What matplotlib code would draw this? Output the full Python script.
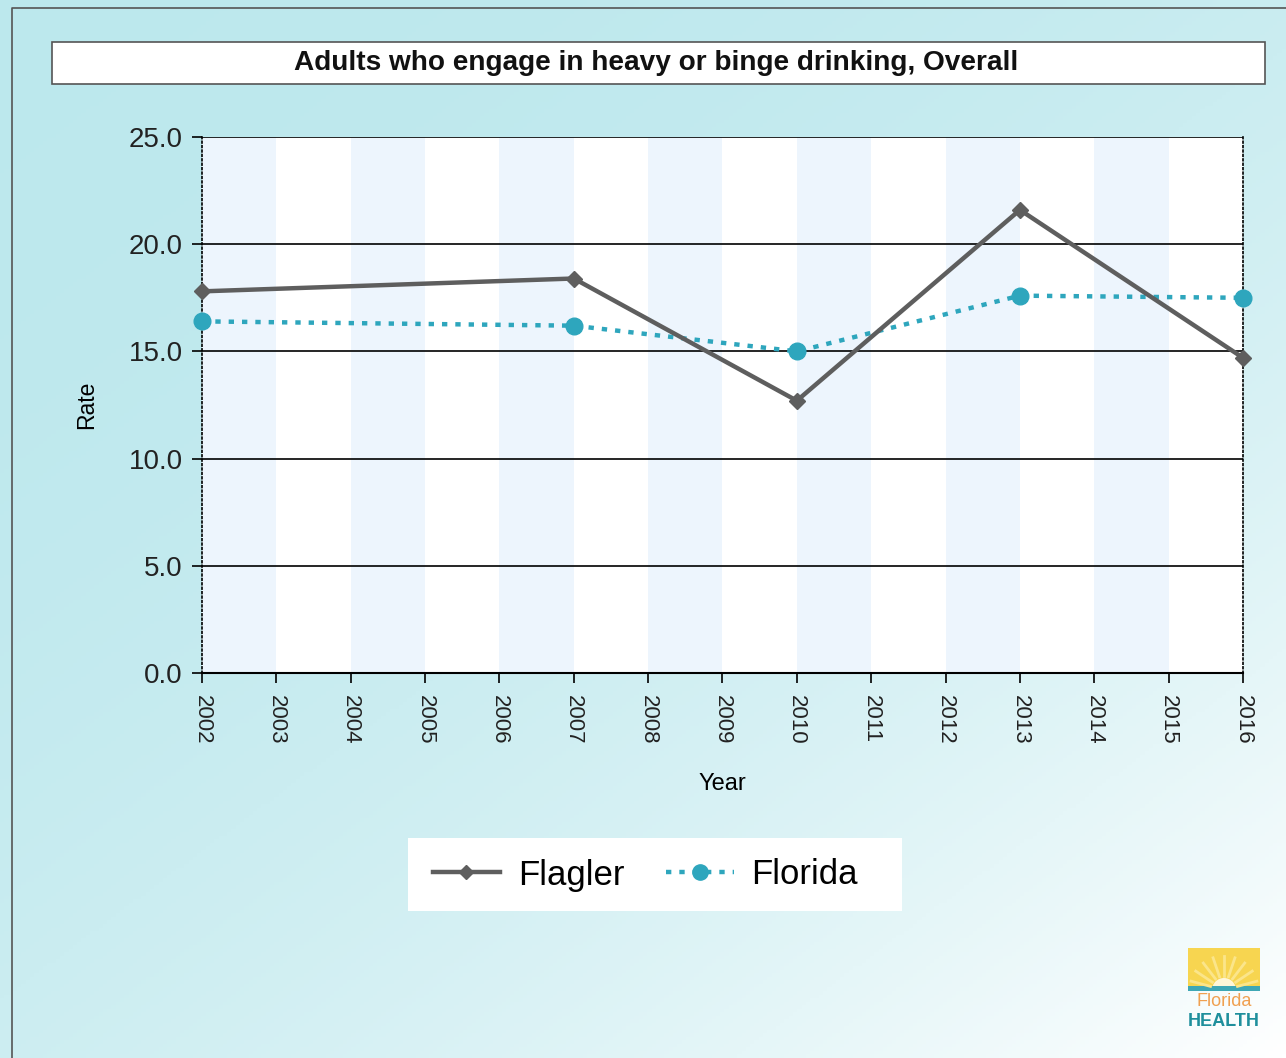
"""
Adults who engage in heavy or binge drinking - Flagler vs Florida.
"""
import numpy as np
import matplotlib.pyplot as plt
from matplotlib.patches import Rectangle, Wedge
from matplotlib.lines import Line2D

plt.rcParams['font.family'] = ['Liberation Sans', 'DejaVu Sans']

years = [2002, 2007, 2010, 2013, 2016]
flagler = [17.8, 18.4, 12.7, 21.6, 14.7]
florida = [16.4, 16.2, 15.0, 17.6, 17.5]
year_ticks = list(range(2002, 2017))
rate_ticks = [0.0, 5.0, 10.0, 15.0, 20.0, 25.0]

title = "Adults who engage in heavy or binge drinking, Overall"
gray = "#5e5e5e"
teal = "#2ea6bd"

W, H = 1286, 1058
fig = plt.figure(figsize=(W / 100, H / 100), dpi=100)

# background gradient, cyan at top-left fading to white at bottom-right
bg = fig.add_axes([0, 0, 1, 1], zorder=-10)
xx, yy = np.meshgrid(np.linspace(0, 1, 300), np.linspace(0, 1, 300))
t = np.clip((xx * 0.9 + yy) / 1.9, 0, 1) ** 2.2
c0 = np.array([0.74, 0.91, 0.93])
img = c0[None, None, :] + (1 - c0)[None, None, :] * t[:, :, None]
bg.imshow(img, extent=[0, W, H, 0], aspect='auto')
bg.set_xlim(0, W)
bg.set_ylim(H, 0)
bg.axis('off')

# outer frame and title box
bg.plot([12, 12, W], [H, 8, 8], color="#555555", lw=1.2)
bg.add_patch(Rectangle((52, 42), 1213, 42, facecolor='white', edgecolor='#555555', lw=1.2))
bg.text(656, 63, title, ha='center', va='center', fontsize=20.2, fontweight='bold', color='#111111')

# white box behind the legend
bg.add_patch(Rectangle((408, 838), 494, 73, facecolor='white', edgecolor='none'))

# simple Florida Health logo
bg.add_patch(Rectangle((1188, 948), 72, 42, facecolor='#f7d550', edgecolor='none'))
for ang in np.linspace(15, 165, 9):
    r = np.radians(ang)
    bg.plot([1224 + 14 * np.cos(r), 1224 + 34 * np.cos(r)],
            [990 - 14 * np.sin(r), 990 - 34 * np.sin(r)], color='#fbe58a', lw=2)
bg.add_patch(Wedge((1224, 990), 12, 180, 360, facecolor='#fff6d8', edgecolor='none'))
bg.add_patch(Rectangle((1188, 986), 72, 5, facecolor='#3fa7b5', edgecolor='none'))
bg.text(1224, 1002, "Florida", ha='center', va='center', fontsize=13, color='#f0a050')
bg.text(1224, 1021, "HEALTH", ha='center', va='center', fontsize=13, fontweight='bold', color='#1f8f9c')

# main plot
ax = fig.add_axes([202 / W, (H - 673) / H, 1041 / W, 536 / H])
ax.set_facecolor('white')
for y0 in range(2002, 2016, 2):
    ax.axvspan(y0, y0 + 1, color='#edf5fd', lw=0, zorder=0)

ax.set_xlim(2002, 2016)
ax.set_ylim(0, 25)
ax.set_yticks(rate_ticks)
ax.set_yticklabels([f"{v:.1f}" for v in rate_ticks], fontsize=20)
ax.set_xticks(year_ticks)
ax.set_xticklabels([str(y) for y in year_ticks], rotation=270, fontsize=16, color='#222222')
ax.tick_params(axis='both', length=7, width=1.2, color='black')
ax.tick_params(axis='y', pad=7, labelcolor='#222222')
ax.tick_params(axis='x', pad=9)

for v in rate_ticks[1:]:
    ax.axhline(v, color='black', lw=1.2, zorder=1)
ax.spines['top'].set_visible(False)
ax.spines['bottom'].set_linewidth(1.5)
for s in ['left', 'right']:
    ax.spines[s].set_linestyle(':')
    ax.spines[s].set_linewidth(1.2)

ax.set_ylabel("Rate", fontsize=16.5, labelpad=22)
ax.set_xlabel("Year", fontsize=17, labelpad=20)

ax.plot(years, flagler, color=gray, lw=3.2, marker='D', markersize=8, zorder=4, clip_on=False)
ax.plot(years, florida, color=teal, lw=3.2, dashes=(1.2, 1.8), marker='o', markersize=12,
        zorder=3, clip_on=False)

# legend (frameless, sits on the white box)
handles = [
    Line2D([], [], color=gray, lw=3.2, marker='D', markersize=7),
    Line2D([], [], color=teal, lw=3.2, dashes=(1.2, 1.8), marker='o', markersize=11),
]
leg = fig.legend(handles, ["Flagler", "Florida"], loc='center', ncol=2,
                 bbox_to_anchor=(645 / W, 1 - 875 / H), fontsize=25, frameon=False,
                 handlelength=1.95, handletextpad=0.5, columnspacing=1.2,
                 borderpad=0.3, borderaxespad=0)

fig.savefig("out.png", dpi=100)
